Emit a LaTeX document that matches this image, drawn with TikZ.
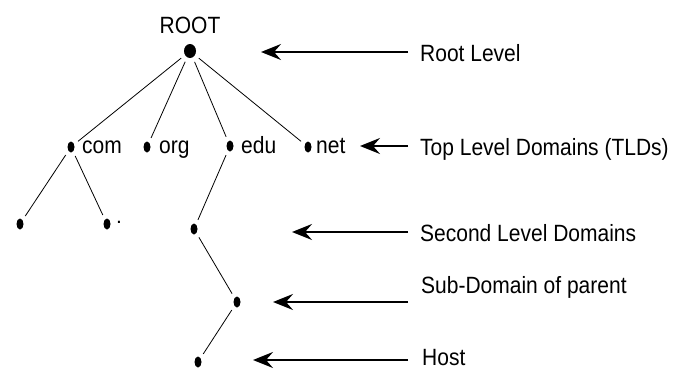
\documentclass[tikz,border=0pt]{standalone}
\usepackage{fontspec}
\usepackage{graphicx}
\setmainfont{Liberation Sans}
\usetikzlibrary{arrows.meta,shapes.geometric}
\newcommand{\dnstext}[1]{\scalebox{1}[1.12]{#1}}

\begin{document}
\begin{tikzpicture}[x=1pt, y=-1pt,
  dot/.style={ellipse, fill=black, inner sep=0pt, outer sep=0pt, minimum width=7pt, minimum height=11pt},
  branch/.style={black, line width=0.8pt, shorten >=5pt, shorten <=5pt},
  lvl/.style={black, line width=2pt, -{Stealth[length=20pt, width=16pt, inset=7pt]}},
  tag/.style={inner sep=0pt, anchor=west, text height=17pt, text depth=3pt, font=\fontsize{21}{25}\selectfont}]
\useasboundingbox (0,0) rectangle (678,372);
\node[dot, minimum width=12pt, minimum height=14pt] (root) at (190,51) {};
\node[tag, anchor=center] (roottxt) at (190,26) {\dnstext{ROOT}};
\node[dot] (com) at (71,147) {};
\node[dot] (org) at (147,147) {};
\node[dot] (edu) at (230,146) {};
\node[dot] (net) at (308,147) {};
\node[tag] (comtxt) at (82,146) {\dnstext{com}};
\node[tag] (orgtxt) at (159,146) {\dnstext{org}};
\node[tag] (edutxt) at (241,146) {\dnstext{edu}};
\node[tag] (nettxt) at (316,146) {\dnstext{net}};
\node[dot] (leafa) at (20,224) {};
\node[dot] (leafb) at (107,224) {};
\node[tag] (leafbtxt) at (116,216) {.};
\node[dot] (sld) at (194,229) {};
\node[dot] (sub) at (237,302) {};
\node[dot] (host) at (198,362) {};
\draw[branch] (root) -- (com);
\draw[branch] (root) -- (org);
\draw[branch] (root) -- (edu);
\draw[branch] (root) -- (net);
\draw[branch] (com) -- (leafa);
\draw[branch] (com) -- (leafb);
\draw[branch] (edu) -- (sld);
\draw[branch] (sld) -- (sub);
\draw[branch] (sub) -- (host);
\node[tag] (rootlvl) at (420,54) {\dnstext{Root Level}};
\node[tag] (tldlvl) at (420,148) {\dnstext{Top Level Domains (TLDs)}};
\node[tag] (sldlvl) at (420,234) {\dnstext{Second Level Domains}};
\node[tag] (sublvl) at (421,286) {\dnstext{Sub-Domain of parent}};
\node[tag] (hostlvl) at (422,358) {\dnstext{Host}};
\coordinate (rootfrom) at (408,52);
\coordinate (rootto) at (261,52);
\coordinate (tldfrom) at (408,146);
\coordinate (tldto) at (360,146);
\coordinate (sldfrom) at (408,232);
\coordinate (sldto) at (292,232);
\coordinate (subfrom) at (408,302);
\coordinate (subto) at (273,302);
\coordinate (hostfrom) at (408,360);
\coordinate (hostto) at (253,360);
\draw[lvl] (rootfrom) -- (rootto);
\draw[lvl] (tldfrom) -- (tldto);
\draw[lvl] (sldfrom) -- (sldto);
\draw[lvl] (subfrom) -- (subto);
\draw[lvl] (hostfrom) -- (hostto);
\end{tikzpicture}
\end{document}
